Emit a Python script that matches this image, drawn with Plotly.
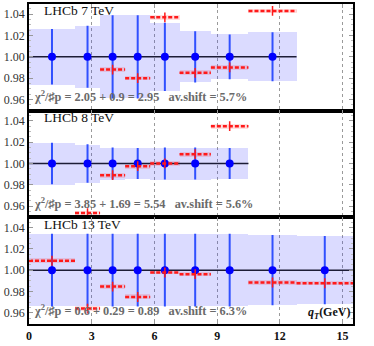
import plotly.graph_objects as go
from plotly.subplots import make_subplots

# qT bin edges (GeV)
bin_edges = [0, 2.2, 3.4, 4.6, 5.8, 7.2, 8.7, 10.5, 12.8, 15.5]

# LHCb 7 TeV
err_7 = [0.026, 0.029, 0.039, 0.039, 0.032, 0.024, 0.021, 0.023]
pred_7 = [None, None, 0.988, 0.980, 1.037, 0.985, 0.990, 1.043]

# LHCb 8 TeV
err_8 = [0.0195, 0.018, 0.015, 0.0145, 0.015, 0.015, 0.0145]
pred_8 = [None, 0.9535, 0.989, 0.9975, 1.000, 1.0087, 1.035]

# LHCb 13 TeV
err_13 = [0.034, 0.034, 0.034, 0.034, 0.034, 0.034, 0.034, 0.033, 0.032]
pred_13 = [1.0088, 0.964, 0.9846, 0.9748, 0.9978, 0.9962, None, 0.9884, 0.9877]

labels = ["LHCb 7 TeV", "LHCb 8 TeV", "LHCb 13 TeV"]
chi2_text = [
    "χ<sup>2</sup>/♯p = 2.05 + 0.9 = 2.95\u00a0\u00a0\u00a0av.shift = 5.7%",
    "χ<sup>2</sup>/♯p = 3.85 + 1.69 = 5.54\u00a0\u00a0\u00a0av.shift = 5.6%",
    "χ<sup>2</sup>/♯p = 0.6 + 0.29 = 0.89\u00a0\u00a0\u00a0av.shift = 6.3%",
]

x_ticks = [0, 3, 6, 9, 12, 15]
y_ticks = [0.96, 0.98, 1.00, 1.02, 1.04]

SERIF = "Liberation Serif"
RED = "#ff1a1a"

fig = make_subplots(rows=3, cols=1, shared_xaxes=True, vertical_spacing=0)

panels = [(err_7, pred_7), (err_8, pred_8), (err_13, pred_13)]
for row, (errs, preds) in enumerate(panels, start=1):
    n = len(errs)
    lo = bin_edges[:n]
    hi = bin_edges[1:n + 1]
    centers = [(a + b) / 2 for a, b in zip(lo, hi)]
    widths = [b - a for a, b in zip(lo, hi)]

    # uncertainty band
    fig.add_trace(
        go.Bar(
            x=centers,
            width=widths,
            base=[1 - e for e in errs],
            y=[2 * e for e in errs],
            marker=dict(color="rgba(40,40,255,0.17)", line=dict(width=0)),
            hoverinfo="skip",
        ),
        row=row, col=1,
    )

    # reference line at 1
    fig.add_trace(
        go.Scatter(
            x=[bin_edges[0], hi[-1]], y=[1, 1], mode="lines",
            line=dict(color="#1c1c36", width=1.5),
        ),
        row=row, col=1,
    )

    # data points with errors
    fig.add_trace(
        go.Scatter(
            x=centers, y=[1] * n, mode="markers",
            marker=dict(color="#0000ff", size=8),
            error_y=dict(type="data", array=errs, color="#3050ff",
                         thickness=2, width=0),
        ),
        row=row, col=1,
    )

    # prediction: faint band, dashed segments and centre ticks
    kept = [i for i in range(n) if preds[i] is not None]
    fig.add_trace(
        go.Bar(
            x=[centers[i] for i in kept],
            width=[widths[i] for i in kept],
            base=[preds[i] - 0.0022 for i in kept],
            y=[0.0044] * len(kept),
            marker=dict(color="rgba(255,0,0,0.13)", line=dict(width=0)),
            hoverinfo="skip",
        ),
        row=row, col=1,
    )
    seg_x, seg_y = [], []
    for i in kept:
        seg_x += [lo[i], hi[i], None]
        seg_y += [preds[i], preds[i], None]
    fig.add_trace(
        go.Scatter(
            x=seg_x, y=seg_y, mode="lines",
            line=dict(color=RED, width=2.5, dash="4px,2px"),
        ),
        row=row, col=1,
    )
    fig.add_trace(
        go.Scatter(
            x=[centers[i] for i in kept], y=[preds[i] for i in kept],
            mode="markers",
            marker=dict(symbol="line-ns-open", size=7, color=RED,
                        line=dict(color=RED, width=1.5)),
        ),
        row=row, col=1,
    )

    ax = "" if row == 1 else str(row)
    fig.add_annotation(
        text=labels[row - 1], xref=f"x{ax} domain", yref=f"y{ax} domain",
        x=0.04, y=0.935, xanchor="left", yanchor="middle", showarrow=False,
        font=dict(family=SERIF, size=13.5, color="#111"),
    )
    fig.add_annotation(
        text="<b>" + chi2_text[row - 1] + "</b>",
        xref=f"x{ax} domain", yref=f"y{ax} domain",
        x=0.01, y=0.135, xanchor="left", yanchor="middle", showarrow=False,
        font=dict(family=SERIF, size=12.3, color="#6a6a6a"),
    )

fig.add_annotation(
    text="<b><i>q</i><sub><i>T</i></sub>(GeV)</b>",
    xref="x3 domain", yref="y3 domain", x=0.997, y=0.01,
    xanchor="right", yanchor="bottom", showarrow=False,
    font=dict(family=SERIF, size=12, color="#111"),
)

fig.update_xaxes(
    range=[0, 15.5], tickvals=x_ticks,
    ticktext=[f"<b>{t}</b>" for t in x_ticks],
    showgrid=True, gridcolor="#9a9a9a", griddash="dot", gridwidth=1,
    showline=True, linecolor="black", linewidth=1.5, mirror="allticks",
    ticks="inside", ticklen=4, tickcolor="#999",
    zeroline=False,
    tickfont=dict(family=SERIF, size=12, color="#111"),
)
fig.update_yaxes(
    range=[0.9495, 1.0495], tickvals=y_ticks,
    ticktext=[f"{t:.2f}" for t in y_ticks],
    showgrid=False, zeroline=False,
    showline=True, linecolor="black", linewidth=1.5, mirror="allticks",
    ticks="inside", ticklen=4, tickcolor="#999",
    minor=dict(dtick=0.005, ticklen=2, tickcolor="#bbb", ticks="inside"),
    tickfont=dict(family=SERIF, size=12, color="#333"),
)

fig.update_layout(
    width=374, height=346,
    margin=dict(l=29, r=21, t=2, b=22),
    plot_bgcolor="white", paper_bgcolor="white",
    barmode="overlay", bargap=0, showlegend=False,
)

# the default page has an 8px body margin; drop it so the figure fills the window
fig.write_html(
    "out.html",
    config={"displayModeBar": False},
    post_script="document.body.style.margin='0';",
)
